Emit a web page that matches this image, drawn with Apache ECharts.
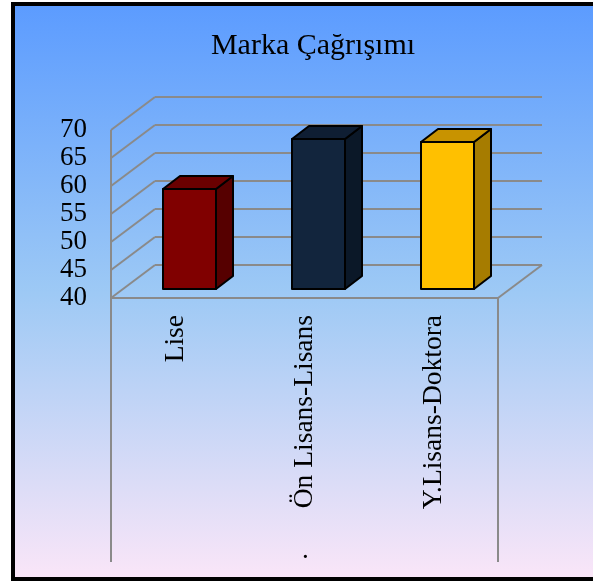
<!DOCTYPE html>
<html>
<head>
<meta charset="utf-8">
<script src="https://cdn.jsdelivr.net/npm/echarts@6/dist/echarts.min.js"></script>
<style>html,body{margin:0;padding:0;background:#fff;}#c{width:593px;height:583px;}</style>
</head>
<body>
<div id="c"></div>
<script>
var categories = ['Lise', 'Ön Lisans-Lisans', 'Y.Lisans-Doktora'];
var values = [57.86, 66.79, 66.25];
var yTicks = [40, 45, 50, 55, 60, 65, 70];
var frontColors = ['#800000', '#12253D', '#FFC000'];
var sideColors = ['#560000', '#0B1828', '#A67C00'];
var topColors = ['#6A0000', '#0F1E33', '#C89300'];

var FONT = '"Liberation Serif", "DejaVu Serif", serif';
var DX = 44, DY = 33;           // wall depth (pixels)
var OX = 14, OY = 9;            // bar front-face offset inside the depth
var BW = 53, BDX = 17, BDY = 13; // bar width and bar depth
var LINE = '#8A8A8A';
var BOTTOM_Y = 562;

var chart = echarts.init(document.getElementById('c'), null, {renderer: 'canvas'});

function frameItem(params, api) {
  var v = api.value(0);
  var cs = params.coordSys;
  var x0 = cs.x, x1 = cs.x + cs.width;
  var y = api.coord([0, v])[1];
  var st = {stroke: LINE, lineWidth: 2, fill: null};
  var ch = [
    {type: 'line', shape: {x1: x0, y1: y, x2: x0 + DX, y2: y - DY}, style: st},
    {type: 'line', shape: {x1: x0 + DX, y1: y - DY, x2: x1 + DX, y2: y - DY}, style: st}
  ];
  if (v === yTicks[0]) {
    var yTop = api.coord([0, yTicks[yTicks.length - 1]])[1];
    ch.push({type: 'line', shape: {x1: x0, y1: y, x2: x1, y2: y}, style: st});
    ch.push({type: 'line', shape: {x1: x1, y1: y, x2: x1 + DX, y2: y - DY}, style: st});
    ch.push({type: 'line', shape: {x1: x0, y1: yTop, x2: x0, y2: BOTTOM_Y}, style: st});
    ch.push({type: 'line', shape: {x1: x1, y1: y, x2: x1, y2: BOTTOM_Y}, style: st});
  }
  return {type: 'group', children: ch};
}

function barItem(params, api) {
  var i = api.value(0), v = api.value(1);
  var base = api.coord([i, yTicks[0]]);
  var top = api.coord([i, v]);
  var xl = base[0] + OX - BW / 2, xr = xl + BW;
  var yb = base[1] - OY, yt = top[1] - OY;
  var st = {stroke: '#000', lineWidth: 2, lineJoin: 'round'};
  return {type: 'group', children: [
    {type: 'polygon', shape: {points: [[xr, yt], [xr + BDX, yt - BDY], [xr + BDX, yb - BDY], [xr, yb]]},
      style: Object.assign({fill: sideColors[i]}, st)},
    {type: 'polygon', shape: {points: [[xl, yt], [xl + BDX, yt - BDY], [xr + BDX, yt - BDY], [xr, yt]]},
      style: Object.assign({fill: topColors[i]}, st)},
    {type: 'rect', shape: {x: xl, y: yt, width: BW, height: yb - yt},
      style: Object.assign({fill: frontColors[i]}, st)}
  ]};
}

chart.setOption({
  animation: false,
  backgroundColor: '#ffffff',
  graphic: [
    {type: 'rect', z: -10, shape: {x: 13, y: 4, width: 620, height: 575},
      style: {
        fill: new echarts.graphic.LinearGradient(0, 0, 0, 1, [
          {offset: 0, color: '#5B9BFF'},
          {offset: 0.5, color: '#9DC9F5'},
          {offset: 1, color: '#FBE6F8'}
        ]),
        stroke: '#000', lineWidth: 4
      }},
    {type: 'text', z: 5, left: 302, top: 537,
      style: {text: '.', font: '27px ' + FONT, fill: '#000'}}
  ],
  title: {
    text: 'Marka Çağrışımı',
    left: 308, top: 26,
    textAlign: 'center',
    textStyle: {fontFamily: FONT, fontSize: 30, fontWeight: 'normal', color: '#000'}
  },
  grid: {left: 111, right: 95, top: 130, bottom: 285},
  xAxis: {
    type: 'category', data: categories,
    axisLine: {show: false}, axisTick: {show: false},
    axisLabel: {rotate: 90, margin: 17, fontFamily: FONT, fontSize: 27.5, color: '#000', interval: 0}
  },
  yAxis: {
    type: 'value', min: 40, max: 70, interval: 5,
    axisLine: {show: false}, axisTick: {show: false}, splitLine: {show: false},
    axisLabel: {margin: 24, fontFamily: FONT, fontSize: 27, color: '#000', padding: [8, 0, 0, 0]}
  },
  series: [
    {type: 'custom', renderItem: frameItem, data: yTicks.map(function (v) { return [v]; }),
      encode: {y: 0}, z: 1, silent: true},
    {type: 'custom', renderItem: barItem, data: values.map(function (v, i) { return [i, v]; }),
      encode: {x: 0, y: 1}, z: 3}
  ]
});
</script>
</body>
</html>
